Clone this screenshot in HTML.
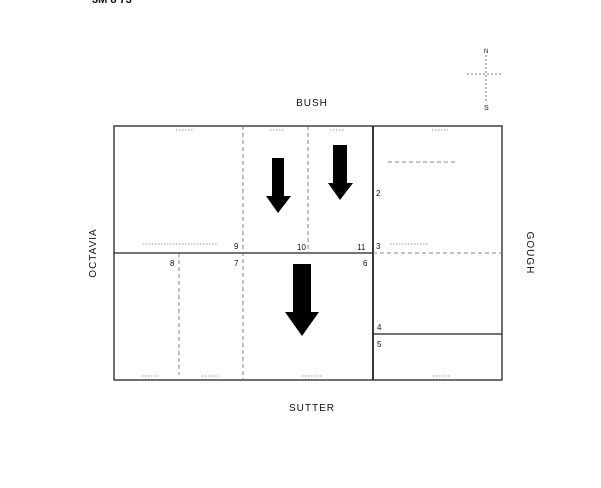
<!DOCTYPE html>
<html><head><meta charset="utf-8"><style>
html,body{margin:0;padding:0;background:#fff;}
svg{display:block;}
text{font-family:"Liberation Sans",sans-serif;fill:#111;}
</style></head><body>
<svg width="601" height="488" viewBox="0 0 601 488" xmlns="http://www.w3.org/2000/svg">
<rect width="601" height="488" fill="#fff"/>
<text x="92" y="3" font-size="11" font-weight="bold" fill="#333">3M 8 73</text>
<!-- compass -->
<g stroke="#555" stroke-width="0.8" stroke-dasharray="2,2">
<line x1="486" y1="55" x2="486" y2="103"/>
<line x1="467" y1="74" x2="502" y2="74"/>
</g>
<text x="484" y="53" font-size="6">N</text>
<text x="484" y="110" font-size="7">S</text>
<!-- street names -->
<text x="312" y="106" font-size="10" text-anchor="middle" letter-spacing="1">BUSH</text>
<text x="312" y="411" font-size="10" text-anchor="middle" letter-spacing="1">SUTTER</text>
<text transform="translate(96,253) rotate(-90)" font-size="10" text-anchor="middle" letter-spacing="1">OCTAVIA</text>
<text transform="translate(527,253) rotate(90)" font-size="10" text-anchor="middle" letter-spacing="1">GOUGH</text>
<!-- main lines -->
<g stroke="#222" stroke-width="1.3" fill="none">
<rect x="114" y="126" width="388" height="254"/>
<line x1="373" y1="126" x2="373" y2="380" stroke-width="1.8"/>
<line x1="114" y1="253" x2="373" y2="253"/>
<line x1="373" y1="334" x2="502" y2="334"/>
</g>
<g stroke="#666" stroke-width="0.8" fill="none" stroke-dasharray="4,3">
<line x1="243" y1="126" x2="243" y2="380"/>
<line x1="308" y1="126" x2="308" y2="253"/>
<line x1="179" y1="253" x2="179" y2="375"/>
<line x1="373" y1="253" x2="502" y2="253"/>
<line x1="388" y1="162" x2="455" y2="162"/>
</g>
<!-- small dimension labels (faint) -->
<g stroke="#999" stroke-width="1" stroke-dasharray="1.5,1.5">
<line x1="176" y1="130" x2="194" y2="130"/>
<line x1="270" y1="130" x2="284" y2="130"/>
<line x1="330" y1="130" x2="344" y2="130"/>
<line x1="432" y1="130" x2="448" y2="130"/>
<line x1="143" y1="244" x2="218" y2="244"/>
<line x1="390" y1="244" x2="428" y2="244"/>
<line x1="142" y1="376" x2="158" y2="376"/>
<line x1="202" y1="376" x2="218" y2="376"/>
<line x1="302" y1="376" x2="322" y2="376"/>
<line x1="433" y1="376" x2="450" y2="376"/>
</g>
<!-- numbers -->
<g font-size="8">
<text x="234" y="249">9</text>
<text x="297" y="250">10</text>
<text x="357" y="250">11</text>
<text x="170" y="266">8</text>
<text x="234" y="266">7</text>
<text x="363" y="266">6</text>
<text x="376" y="196">2</text>
<text x="376" y="249">3</text>
<text x="377" y="330">4</text>
<text x="377" y="347">5</text>
</g>
<!-- arrows -->
<g fill="#000">
<polygon points="272,158 284,158 284,196 291,196 278,213 266,196 272,196"/>
<polygon points="333,145 347,145 347,183 353,183 340,200 328,183 333,183"/>
<polygon points="293,264 311,264 311,312 319,312 302,336 285,312 293,312"/>
</g>
</svg>
</body></html>
